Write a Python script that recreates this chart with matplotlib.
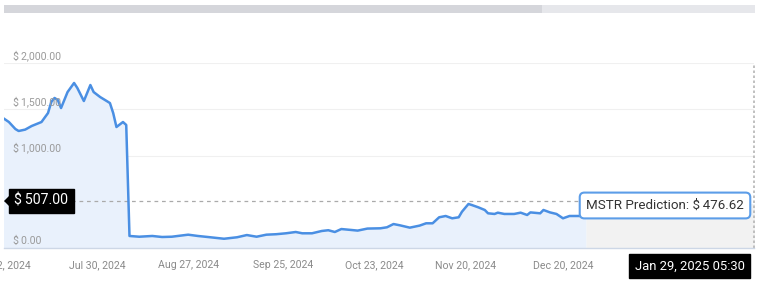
import numpy as np
import pandas as pd
import matplotlib
matplotlib.use('Agg')
import matplotlib.pyplot as plt
import matplotlib.dates as mdates
from matplotlib.patches import Rectangle, Polygon

plt.rcParams['font.family'] = ['Roboto', 'DejaVu Sans']
plt.rcParams['text.parse_math'] = False

# precio historico
fechas = ['2024-07-01', '2024-07-03', '2024-07-05', '2024-07-06', '2024-07-08',
          '2024-07-10', '2024-07-13', '2024-07-15', '2024-07-16', '2024-07-17',
          '2024-07-18', '2024-07-19', '2024-07-21', '2024-07-23', '2024-07-24',
          '2024-07-26', '2024-07-28', '2024-07-29', '2024-07-31', '2024-08-02',
          '2024-08-03', '2024-08-04', '2024-08-05', '2024-08-07', '2024-08-08',
          '2024-08-09', '2024-08-12', '2024-08-16', '2024-08-19', '2024-08-22',
          '2024-08-27', '2024-08-30', '2024-09-02', '2024-09-07', '2024-09-11',
          '2024-09-14', '2024-09-17', '2024-09-20', '2024-09-23', '2024-09-26',
          '2024-09-29', '2024-10-01', '2024-10-04', '2024-10-07', '2024-10-09',
          '2024-10-11', '2024-10-13', '2024-10-16', '2024-10-18', '2024-10-21',
          '2024-10-25', '2024-10-27', '2024-10-29', '2024-10-31', '2024-11-03',
          '2024-11-06', '2024-11-08', '2024-11-10', '2024-11-12', '2024-11-14',
          '2024-11-16', '2024-11-18', '2024-11-19', '2024-11-21', '2024-11-22',
          '2024-11-24', '2024-11-26', '2024-11-27', '2024-11-29', '2024-11-30',
          '2024-12-02', '2024-12-05', '2024-12-07', '2024-12-09', '2024-12-10',
          '2024-12-13', '2024-12-14', '2024-12-16', '2024-12-18', '2024-12-20',
          '2024-12-22', '2024-12-25', '2024-12-27']
precios = [1410, 1362, 1286, 1265, 1280,
           1319, 1362, 1459, 1578, 1622,
           1600, 1513, 1686, 1784, 1730,
           1589, 1762, 1686, 1632, 1589,
           1567, 1459, 1308, 1362, 1330,
           130, 122, 130, 119, 122,
           144, 130, 119, 100, 116,
           140, 122, 144, 149, 159,
           173, 159, 159, 184, 192,
           173, 205, 195, 188, 210,
           213, 224, 259, 245, 220,
           242, 267, 267, 332, 346,
           321, 332, 392, 476, 465,
           440, 411, 375, 368, 382,
           368, 368, 382, 357, 385,
           375, 411, 385, 368, 321,
           346, 346, 346]

# prediccion (zona gris)
fechas_pred = ['2024-12-27', '2025-01-29', '2025-02-18']
precios_pred = [346, 476.62, 480]

yticks = [0, 1000, 1500, 2000]
ytick_labels = ['$\u20090.00', '$\u20091,000.00', '$\u20091,500.00', '$\u20092,000.00']
xticks = ['2024-07-02', '2024-07-30', '2024-08-27', '2024-09-25',
          '2024-10-23', '2024-11-20', '2024-12-20']
xtick_labels = ['Jul 2, 2024', 'Jul 30, 2024', 'Aug 27, 2024', 'Sep 25, 2024',
                'Oct 23, 2024', 'Nov 20, 2024', 'Dec 20, 2024']
precio_actual = 507.00
texto_pred = 'MSTR Prediction: $\u2009476.62'
texto_fecha = 'Jan 29, 2025 05:30'

x = pd.to_datetime(fechas)
xp = pd.to_datetime(fechas_pred)

fig = plt.figure(figsize=(7.68, 2.87), dpi=100)
ax = fig.add_axes([4/768, 1-248/287, 750/768, 185/287])

azul = '#4a8fe3'
ax.fill_between(xp, precios_pred, 0, color='#f2f2f2', lw=0, zorder=1)
ax.fill_between(x, precios, 0, color='#e9f1fc', lw=0, zorder=2)
ax.plot(x, precios, color=azul, lw=1.8, zorder=3)

inicio = pd.Timestamp('2024-07-30') - pd.Timedelta(days=28.5)
fin = pd.Timestamp('2024-07-30') + pd.Timedelta(days=201.6)
ax.set_xlim(inicio, fin)
ax.set_ylim(0, 2000)

for v in yticks[1:]:
    ax.axhline(v, color='#f0f0f0', lw=0.8, zorder=0)
for v, lab in zip(yticks, ytick_labels):
    ax.annotate(lab, xy=(0, v), xycoords=('axes fraction', 'data'),
                xytext=(6.5, 1.5), textcoords='offset points', fontsize=7.6,
                color='#9a9a9a', va='bottom', ha='left', zorder=4)

ax.set_yticks([])
ax.set_xticks(pd.to_datetime(xticks))
ax.set_xticklabels(xtick_labels, fontsize=7.6, color='#8a8a8a')
ax.tick_params(axis='x', length=0, pad=9)
for s in ['top', 'right', 'left']:
    ax.spines[s].set_visible(False)
ax.spines['bottom'].set_color('#cdd7e6')
ax.spines['bottom'].set_linewidth(1)
ax.patch.set_alpha(0)

# linea punteada del precio actual y vertical del cursor
ax.axhline(precio_actual, color='#aaaaaa', lw=0.9, ls=(0, (3, 3)), zorder=2.5)
ax.axvline(fin, color='#b5b5b5', lw=1.2, ls=(0, (1.5, 1.5)), zorder=2.5,
           clip_on=False)

# etiqueta negra del precio
fig.text(41.5/768, 1-201/287, '$\u2009507.00', color='white', fontsize=10.2,
         ha='center', va='center',
         bbox=dict(boxstyle='square,pad=0.38', fc='black', ec='black'))
fig.patches.append(Polygon([[4/768, 1-201/287], [9/768, 1-196/287], [9/768, 1-206/287]],
                           closed=True, fc='black', ec='none',
                           transform=fig.transFigure, figure=fig))

# tooltip de la prediccion
fig.text(665/768, 1-205.5/287, texto_pred, color='#333333', fontsize=9.6,
         ha='center', va='center', zorder=10,
         bbox=dict(boxstyle='round,pad=0.48,rounding_size=0.35', fc='white',
                   ec='#5c9de8', lw=1.5))

# etiqueta de fecha
fig.text(689.5/768, 1-266/287, texto_fecha, color='white', fontsize=9.4,
         ha='center', va='center',
         bbox=dict(boxstyle='square,pad=0.42', fc='black', ec='black'))

# barra de desplazamiento superior
fig.patches.append(Rectangle((4/768, 1-13/287), 538/768, 8/287, fc='#d5d6db',
                             ec='none', transform=fig.transFigure, figure=fig))
fig.patches.append(Rectangle((542/768, 1-13/287), 213/768, 8/287, fc='#e6e7eb',
                             ec='none', transform=fig.transFigure, figure=fig))

plt.savefig('out.png', dpi=100)
